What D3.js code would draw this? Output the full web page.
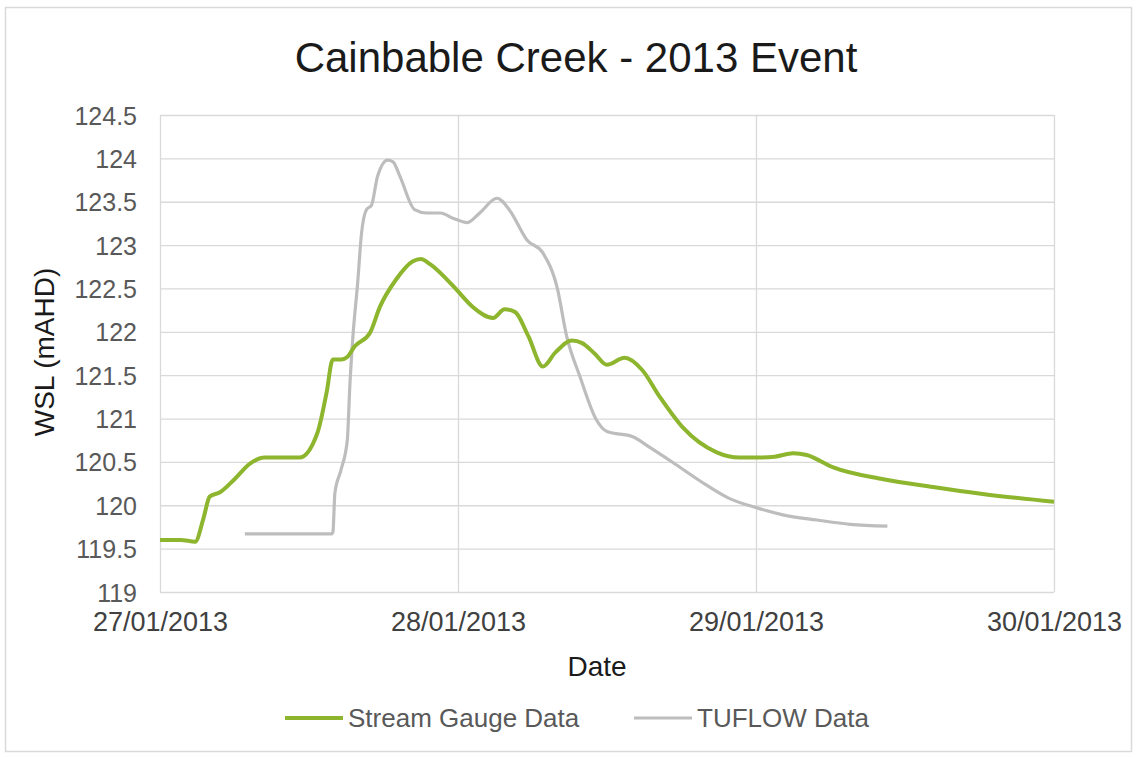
<!DOCTYPE html>
<html>
<head>
<meta charset="utf-8">
<script src="https://cdn.jsdelivr.net/npm/d3@7"></script>
<style>
  body { margin: 0; background: #fff; }
  svg { font-family: "Liberation Sans", Arial, sans-serif; display: block; }
  .grid line { stroke: #d9d9d9; stroke-width: 1.3; }
  .grid path { display: none; }
  .axis path, .axis line { display: none; }
  .axis text { fill: #595959; }
</style>
</head>
<body>
<div id="chart"></div>
<script>
// Stream gauge readings (green)
var gaugeTime = [
  "2013-01-27 00:00", "2013-01-27 01:40", "2013-01-27 02:50", "2013-01-27 03:30", "2013-01-27 04:00",
  "2013-01-27 04:50", "2013-01-27 06:00", "2013-01-27 07:15", "2013-01-27 08:25", "2013-01-27 10:00",
  "2013-01-27 11:15", "2013-01-27 12:40", "2013-01-27 13:25", "2013-01-27 13:55", "2013-01-27 14:35",
  "2013-01-27 15:05", "2013-01-27 15:40", "2013-01-27 16:55", "2013-01-27 17:43", "2013-01-27 19:00",
  "2013-01-27 20:20", "2013-01-27 21:00", "2013-01-27 21:45", "2013-01-27 23:00", "2013-01-27 23:55",
  "2013-01-28 01:10", "2013-01-28 02:50", "2013-01-28 03:45", "2013-01-28 04:35", "2013-01-28 05:40",
  "2013-01-28 06:50", "2013-01-28 07:50", "2013-01-28 09:10", "2013-01-28 10:00", "2013-01-28 11:00",
  "2013-01-28 12:00", "2013-01-28 13:25", "2013-01-28 14:50", "2013-01-28 16:15", "2013-01-28 18:05",
  "2013-01-28 20:50", "2013-01-28 22:40", "2013-01-29 00:00", "2013-01-29 01:30", "2013-01-29 03:00",
  "2013-01-29 04:05", "2013-01-29 06:10", "2013-01-29 10:15", "2013-01-29 14:15", "2013-01-29 18:15",
  "2013-01-30 00:00"
];
var gaugeWSL = [
  119.60, 119.60, 119.58, 119.85, 120.10,
  120.15, 120.30, 120.48, 120.55, 120.55,
  120.55, 120.83, 121.30, 121.68, 121.68,
  121.71, 121.83, 121.99, 122.29, 122.60,
  122.81, 122.84, 122.78, 122.62, 122.48,
  122.29, 122.16, 122.26, 122.23, 121.95,
  121.60, 121.76, 121.90, 121.87, 121.75,
  121.62, 121.70, 121.56, 121.25, 120.90,
  120.61, 120.55, 120.55, 120.56, 120.60,
  120.58, 120.44, 120.30, 120.21, 120.13,
  120.04
];

// TUFLOW model results (grey)
var tuflowTime = [
  "2013-01-27 06:50", "2013-01-27 13:50", "2013-01-27 13:56", "2013-01-27 14:05", "2013-01-27 14:35",
  "2013-01-27 15:05", "2013-01-27 15:18", "2013-01-27 15:32", "2013-01-27 15:55", "2013-01-27 16:14",
  "2013-01-27 16:38", "2013-01-27 17:02", "2013-01-27 17:31", "2013-01-27 18:20", "2013-01-27 18:46",
  "2013-01-27 19:20", "2013-01-27 20:30", "2013-01-27 21:30", "2013-01-27 22:35", "2013-01-27 23:35",
  "2013-01-28 00:45", "2013-01-28 01:45", "2013-01-28 03:08", "2013-01-28 04:10", "2013-01-28 05:33",
  "2013-01-28 06:50", "2013-01-28 08:00", "2013-01-28 08:45", "2013-01-28 09:50", "2013-01-28 11:10",
  "2013-01-28 12:00", "2013-01-28 14:05", "2013-01-28 15:25", "2013-01-28 17:20", "2013-01-28 19:30",
  "2013-01-28 21:50", "2013-01-29 00:05", "2013-01-29 02:10", "2013-01-29 04:55", "2013-01-29 07:35",
  "2013-01-29 10:35"
];
var tuflowWSL = [
  119.67, 119.67, 119.70, 120.14, 120.41,
  120.75, 121.41, 121.94, 122.56, 123.14,
  123.41, 123.46, 123.79, 123.98, 123.96,
  123.79, 123.41, 123.37, 123.37, 123.31,
  123.26, 123.37, 123.54, 123.40, 123.06,
  122.91, 122.50, 121.95, 121.48, 120.98,
  120.85, 120.79, 120.67, 120.49, 120.28,
  120.08, 119.97, 119.89, 119.83, 119.78,
  119.76
];

var xTicks = ["2013-01-27 00:00", "2013-01-28 00:00", "2013-01-29 00:00", "2013-01-30 00:00"];
var yTicks = [119, 119.5, 120, 120.5, 121, 121.5, 122, 122.5, 123, 123.5, 124, 124.5];

var seriesNames = ["Stream Gauge Data", "TUFLOW Data"];
var seriesColors = ["#8db52e", "#bdbdbd"];

(function () {
  var W = 1137, H = 758;
  var margin = {top: 115, left: 160, right: 83, bottom: 166};
  var parse = d3.timeParse("%Y-%m-%d %H:%M");

  var svg = d3.select("#chart").append("svg")
    .attr("width", W)
    .attr("height", H);

  // outer frame
  svg.append("rect")
    .attr("x", 5.5).attr("y", 7.5)
    .attr("width", W - 11).attr("height", H - 14)
    .attr("fill", "#fff")
    .attr("stroke", "#d9d9d9")
    .attr("stroke-width", 1.5);

  var x = d3.scaleTime()
    .domain([parse(xTicks[0]), parse(xTicks[xTicks.length - 1])])
    .range([margin.left, W - margin.right]);

  var y = d3.scaleLinear()
    .domain([119, 124.5])
    .range([H - margin.bottom, margin.top]);

  // gridlines
  svg.append("g")
    .attr("class", "grid")
    .attr("transform", "translate(" + margin.left + ",0)")
    .call(d3.axisLeft(y).tickValues(yTicks).tickSize(-(x.range()[1] - x.range()[0])).tickFormat(""));

  svg.append("g")
    .attr("class", "grid")
    .attr("transform", "translate(0," + y.range()[0] + ")")
    .call(d3.axisBottom(x).tickValues(xTicks.map(parse)).tickSize(-(y.range()[0] - y.range()[1])).tickFormat(""));

  // axes labels
  svg.append("g")
    .attr("class", "axis")
    .attr("transform", "translate(" + (margin.left - 23) + ",0)")
    .call(d3.axisLeft(y).tickValues(yTicks).tickSize(0).tickPadding(0).tickFormat(d3.format("")))
    .selectAll("text").attr("dy", "0.36em").style("font-size", "25px");

  svg.append("g")
    .attr("class", "axis")
    .attr("transform", "translate(0," + (y.range()[0] + 19) + ")")
    .call(d3.axisBottom(x).tickValues(xTicks.map(parse)).tickSize(0).tickPadding(0).tickFormat(d3.timeFormat("%d/%m/%Y")))
    .selectAll("text").attr("dy", "0.75em").style("font-size", "27px").style("fill", "#404040");

  // lines
  var line = d3.line()
    .x(function (d) { return x(d.t); })
    .y(function (d) { return y(d.v); })
    .curve(d3.curveMonotoneX);

  var gauge = gaugeTime.map(function (t, i) { return {t: parse(t), v: gaugeWSL[i]}; });
  var tuflow = tuflowTime.map(function (t, i) { return {t: parse(t), v: tuflowWSL[i]}; });

  svg.append("path")
    .datum(tuflow)
    .attr("fill", "none")
    .attr("stroke", seriesColors[1])
    .attr("stroke-width", 3.2)
    .attr("stroke-linejoin", "round")
    .attr("d", line);

  svg.append("path")
    .datum(gauge)
    .attr("fill", "none")
    .attr("stroke", seriesColors[0])
    .attr("stroke-width", 4)
    .attr("stroke-linejoin", "round")
    .attr("d", line);

  // titles
  svg.append("text")
    .attr("x", 576).attr("y", 72)
    .attr("text-anchor", "middle")
    .attr("font-size", 42)
    .attr("fill", "#1a1a1a")
    .text("Cainbable Creek - 2013 Event");

  svg.append("text")
    .attr("x", 597).attr("y", 676)
    .attr("text-anchor", "middle")
    .attr("font-size", 28)
    .attr("fill", "#1a1a1a")
    .text("Date");

  svg.append("text")
    .attr("transform", "translate(54,352) rotate(-90)")
    .attr("text-anchor", "middle")
    .attr("font-size", 28)
    .attr("fill", "#1a1a1a")
    .text("WSL (mAHD)");

  // legend
  var legendX = [285, 634];
  var legend = svg.selectAll(".legend")
    .data(seriesNames)
    .enter().append("g")
    .attr("class", "legend")
    .attr("transform", function (d, i) { return "translate(" + legendX[i] + ",718)"; });

  legend.append("line")
    .attr("x1", 0).attr("x2", 58)
    .attr("stroke", function (d, i) { return seriesColors[i]; })
    .attr("stroke-width", function (d, i) { return i === 0 ? 4 : 3.2; });

  legend.append("text")
    .attr("x", 63).attr("dy", "0.36em")
    .attr("font-size", 26)
    .attr("fill", "#595959")
    .text(function (d) { return d; });
})();
</script>
</body>
</html>
